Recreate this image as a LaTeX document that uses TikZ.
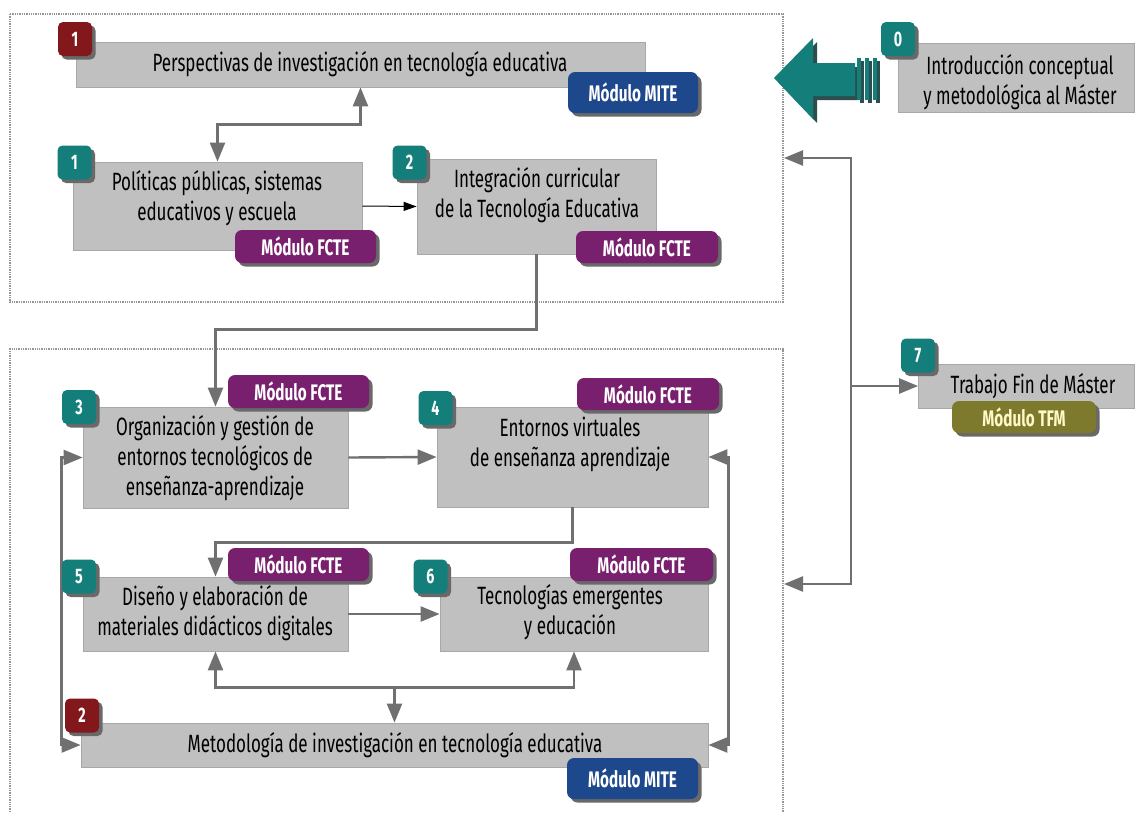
\documentclass[tikz,border=0pt]{standalone}
\usepackage{fontspec}
\usetikzlibrary{arrows.meta,shadows}
\newfontfamily\cf[FakeStretch=0.68]{Fira Sans}
\definecolor{teal1}{RGB}{20,126,123}
\definecolor{dred}{RGB}{130,24,28}
\definecolor{mblue}{RGB}{30,72,140}
\definecolor{mpurple}{RGB}{120,32,110}
\definecolor{molive}{RGB}{125,122,45}
\definecolor{oliveText}{RGB}{255,248,200}
\definecolor{boxfill}{RGB}{192,192,192}
\definecolor{boxline}{RGB}{168,168,168}
\definecolor{shadowc}{RGB}{105,105,105}
\definecolor{connc}{RGB}{112,112,112}
\definecolor{arrowshadow}{RGB}{45,78,78}
\definecolor{framec}{RGB}{150,150,150}
\tikzset{
  gbox/.style={draw=boxline, fill=boxfill, line width=0.8pt, inner sep=0pt},
  btxt/.style={font=\cf\fontsize{25}{30}\selectfont, align=center, text=black, inner sep=0pt},
  badge/.style={rounded corners=5pt, fill=#1, minimum width=34pt, minimum height=34pt, inner sep=0pt,
    text=white, font=\cf\bfseries\fontsize{21}{21}\selectfont,
    drop shadow={shadow xshift=3.5pt, shadow yshift=-3.5pt, fill=shadowc, opacity=1}},
  modtag/.style={rounded corners=7pt, fill=#1, inner sep=0pt, text=white,
    font=\cf\bfseries\fontsize{22.5}{22.5}\selectfont,
    drop shadow={shadow xshift=3.5pt, shadow yshift=-3.5pt, fill=shadowc, opacity=1}},
  tip/.tip={Triangle[length=19pt,width=15pt,fill=connc]},
  conn/.style={draw=connc, line width=2.4pt, arrows={-tip}},
  conn2/.style={draw=connc, line width=2.4pt, arrows={tip-tip}},
  frame/.style={draw=framec, densely dotted, line width=1.3pt},
}
\begin{document}
\begin{tikzpicture}[x=1pt,y=-1pt]
\useasboundingbox (0,0) rectangle (1135,812);
% frames
\draw[frame] (10,14) rectangle (783,302);
\draw[frame] (10,812) |- (783,349) -- (783,812);
% gray boxes
\node[gbox, minimum width=569pt, minimum height=45pt] (p1) at (360.5,64.5) {};
\node[gbox, minimum width=289pt, minimum height=88pt] (pol) at (217.5,206) {};
\node[gbox, minimum width=239pt, minimum height=95pt] (int) at (536.5,206.5) {};
\node[gbox, minimum width=236pt, minimum height=69pt] (intro) at (1016.5,77.5) {};
\node[gbox, minimum width=265pt, minimum height=101pt] (b3) at (215.5,457.5) {};
\node[gbox, minimum width=271pt, minimum height=100pt] (b4) at (572.5,457) {};
\node[gbox, minimum width=265pt, minimum height=74pt] (b5) at (215.5,614) {};
\node[gbox, minimum width=268pt, minimum height=74pt] (b6) at (574,614) {};
\node[gbox, minimum width=627pt, minimum height=44pt] (met) at (394.5,745) {};
\node[gbox, minimum width=216pt, minimum height=44pt] (tfm) at (1026.5,386) {};
% connectors
\draw[conn2] (pol.north) -- ++(0,-37) -| (p1.south);
\draw[draw=black, line width=1pt, arrows={-Triangle[length=13pt,width=9pt]}] (pol.east) -- (int.west);
\draw[conn] (int.south) -- ++(0,75) -| (b3.north);
\draw[conn] (b3.east) -- (b4.west);
\draw[conn] (b4.south) -- ++(0,35) -| (b5.north);
\draw[conn] (b5.east) -- (b6.west);
\draw[conn2] (b5.south) -- ++(0,36) -| (b6.south);
\coordinate (bus) at (394.5,687);
\draw[conn] (bus) -- (met.north);
\draw[conn2] (b3.west) -- ++(-21,0) |- (met.west);
\draw[conn2] (b4.east) -- ++(20,0) |- (met.east);
\coordinate (f1r) at (784,158);
\coordinate (f2r) at (784,584);
\coordinate (jn) at (851,386);
\draw[conn2] (f1r) -| (jn) |- (f2r);
\draw[conn] (jn) -- (tfm.west);
% big arrow
\fill[arrowshadow] (778,82) -- (817,42) -- (817,67) -- (859,67) -- (859,100) -- (817,100) -- (817,123) -- cycle;
\fill[teal1] (774,78) -- (813,38) -- (813,63) -- (855,63) -- (855,96) -- (813,96) -- (813,119) -- cycle;
\foreach \xx in {857,865,873}{
  \fill[arrowshadow] (\xx+3,61) rectangle (\xx+7,103);
  \fill[teal1] (\xx,58) rectangle (\xx+4,100);
}
% texts
\node[btxt] (tp1) at (360,64) {Perspectivas de investigación en tecnología educativa};
\node[btxt] (tpol) at (217,198) {Políticas públicas, sistemas\\educativos y escuela};
\node[btxt] (tint) at (537,195) {Integración curricular\\de la Tecnología Educativa};
\node[btxt] (tintro) at (1020,82) {Introducción conceptual\\y metodológica al Máster};
\node[btxt] (tb3) at (215,458) {Organización y gestión de\\entornos tecnológicos de\\enseñanza-aprendizaje};
\node[btxt] (tb4) at (570,444) {Entornos virtuales\\de enseñanza aprendizaje};
\node[btxt] (tb5) at (215,613) {Diseño y elaboración de\\materiales didácticos digitales};
\node[btxt] (tb6) at (570,612) {Tecnologías emergentes\\y educación};
\node[btxt] (tmet) at (395,745) {Metodología de investigación en tecnología educativa};
\node[btxt] (ttfm) at (1033,386) {Trabajo Fin de Máster};
% badges
\node[badge=dred] (n1a) at (75,39) {1};
\node[badge=teal1] (n1b) at (74.5,162.5) {1};
\node[badge=teal1] (n2) at (409.5,162.5) {2};
\node[badge=teal1] (n0) at (898,39) {0};
\node[badge=teal1] (n3) at (79,407) {3};
\node[badge=teal1] (n4) at (435.5,408) {4};
\node[badge=teal1] (n5) at (79,576.5) {5};
\node[badge=teal1] (n6) at (430.5,576.5) {6};
\node[badge=dred] (n2b) at (82,715.5) {2};
\node[badge=teal1] (n7) at (918,355.5) {7};
% module tags
\node[modtag=mblue, minimum width=130pt, minimum height=41pt] (mp1) at (633,92.5) {Módulo MITE};
\node[modtag=mpurple, minimum width=141pt, minimum height=33pt] (mpol) at (305.5,246.5) {Módulo FCTE};
\node[modtag=mpurple, minimum width=142pt, minimum height=32pt] (mint) at (647,247) {Módulo FCTE};
\node[modtag=mpurple, minimum width=141pt, minimum height=33pt] (m3) at (298.5,391.5) {Módulo FCTE};
\node[modtag=mpurple, minimum width=142pt, minimum height=32pt] (m4) at (648,394) {Módulo FCTE};
\node[modtag=mpurple, minimum width=141pt, minimum height=33pt] (m5) at (298.5,564.5) {Módulo FCTE};
\node[modtag=mpurple, minimum width=143pt, minimum height=33pt] (m6) at (641.5,564.5) {Módulo FCTE};
\node[modtag=mblue, minimum width=131pt, minimum height=41pt] (mmet) at (632.5,778.5) {Módulo MITE};
\node[modtag=molive, text=oliveText, minimum width=144pt, minimum height=32pt] (mtfm) at (1024,417) {Módulo TFM};
\end{tikzpicture}
\end{document}
